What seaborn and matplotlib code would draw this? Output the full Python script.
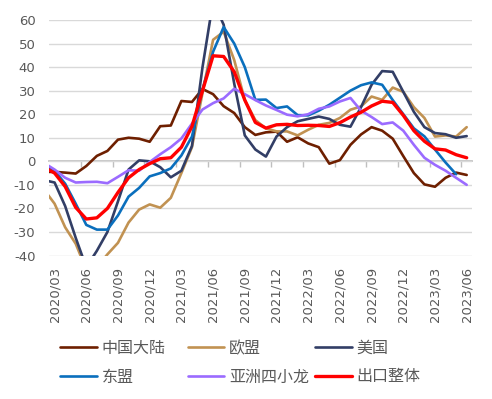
"""
plot.py
=======
Year-on-year growth of exports by destination, 2020/03 - 2023/06.
"""

import numpy as np
import pandas as pd
import matplotlib
matplotlib.use("Agg")
import matplotlib.pyplot as plt
import seaborn as sns

# ── Data (first point 2020/02 sits outside the visible range and is clipped) ──
MONTHS = list(pd.period_range("2020-02", "2023-06", freq="M").strftime("%Y/%m"))

china = [-4.5, -4.5, -4.8, -5.2, -2, 2.3, 4.4, 9.2, 10, 9.6, 8.3, 14.9, 15.2,
         25.6, 25.2, 30.7, 28.5, 23.4, 20.5, 14.5, 11.2, 12.3, 12.6, 8.3, 10.2,
         7.6, 6, -1, 0.5, 7, 11.4, 14.5, 13, 9.6, 2.2, -5, -9.8, -10.8, -7,
         -4.8, -5.8]
eu = [-12, -18, -28, -35, -46, -45, -39.5, -34.6, -26, -20.5, -18.3, -19.7,
      -15.5, -5, 6, 29, 51.6, 55, 43, 26, 17.5, 14, 12.7, 12.7, 11, 13.4, 15.5,
      16.3, 18.4, 21.9, 23.3, 27.5, 26.1, 31.3, 29.5, 23, 18.4, 10.5, 11, 10.5,
      14.5]
us = [-8, -9, -19, -32.5, -45, -38, -30, -17, -3.5, 0.4, 0, -2.5, -6.8, -4,
      6.5, 40, 68, 58, 33, 11, 5, 2, 10.5, 14.5, 17, 18, 19, 18, 15.5, 14.7, 23,
      32.5, 38.3, 38, 29.5, 21, 14.5, 12, 11.5, 10, 10.7]
asean = [-1.5, -4, -9.5, -18, -27, -29, -29, -23, -15, -11.3, -6.4, -5, -3,
         2.5, 10.5, 30.5, 46.5, 57, 50, 40, 26.1, 26.2, 22.6, 23.3, 19.6, 19.5,
         21.5, 24, 27, 30, 32.3, 33.5, 32.5, 26, 20, 14, 10.6, 5, -0.5, -5.5,
         np.nan]
tigers = [-0.7, -3.5, -7, -9, -8.8, -8.7, -9.3, -6.6, -3.8, -4, -0.3, 3, 6,
          9.7, 16, 22, 24.7, 26.7, 30.8, 28.5, 26, 23.7, 21.8, 19.8, 19.1, 20,
          22.3, 23.3, 25.4, 26.9, 21.5, 18.8, 15.8, 16.5, 13, 7, 1.5, -1.5, -4,
          -7, -10]
total = [-2.5, -5, -10.7, -19.6, -24.5, -24, -20, -13.2, -7, -3.5, -1, 1.1,
         1.5, 6, 14.8, 30, 44.8, 44.5, 38, 26, 16.5, 14.1, 15.5, 15.7, 15.2,
         15.3, 15.2, 14.8, 16.4, 18.8, 20.8, 23.5, 25.5, 25, 19.5, 13, 8.5, 5.3,
         4.8, 2.8, 1.5]

SERIES = ["中国大陆", "欧盟", "美国", "东盟", "亚洲四小龙", "出口整体"]
VALUES = [china, eu, us, asean, tigers, total]

PALETTE = {
    "中国大陆": "#6E1F00", "欧盟": "#C19252", "美国": "#323E66",
    "东盟": "#0A6FBD", "亚洲四小龙": "#9B6BFF", "出口整体": "#FF0000",
}
TEXT = "#595959"
GRID = "#D9D9D9"

# ── Style ────────────────────────────────────────────────────────────────────
sns.set_theme(style="white")
plt.rcParams["font.family"] = ["DejaVu Sans", "Noto Sans CJK SC"]
plt.rcParams["axes.unicode_minus"] = False

df = pd.DataFrame({"month": MONTHS, **dict(zip(SERIES, VALUES))})
df["pos"] = np.arange(len(df)) - 1          # 2020/03 -> 0
long = df.melt(id_vars=["month", "pos"], var_name="series", value_name="yoy")

fig = plt.figure(figsize=(4.92, 3.99), dpi=100)
ax = fig.add_axes([0.1002, 0.3596, 0.8591, 0.5903])

for name in SERIES:
    sub = long[long["series"] == name]
    sns.lineplot(data=sub, x="pos", y="yoy", color=PALETTE[name],
                 linewidth=2.4 if name == "出口整体" else 1.9,
                 label=name, legend=False, ax=ax)

ax.set_xlim(-0.5, 39.5)
ax.set_ylim(-40, 60)
ax.set_yticks(np.arange(-40, 61, 10))
ax.grid(axis="y", color=GRID, linewidth=1.0)
ax.grid(axis="x", visible=False)
ax.set_axisbelow(True)
for s in ax.spines.values():
    s.set_visible(False)

tick_pos = np.arange(0, 40, 3)
ax.set_xticks(tick_pos, [MONTHS[p + 1] for p in tick_pos], rotation=90)
ax.tick_params(axis="x", length=0, pad=8, labelsize=9.5, colors=TEXT)
ax.tick_params(axis="y", length=0, pad=10, labelsize=9.5, colors=TEXT)
ax.set_xlabel("")
ax.set_ylabel("")

# category axis crossing at zero, tick marks between every third month
zero = ax.secondary_xaxis(0.4)
zero.set_xticks(np.arange(2.5, 39.5, 3))
zero.tick_params(length=4, width=1, color="#BFBFBF", labelbottom=False)
zero.spines["bottom"].set_color("#BFBFBF")

# legend laid out like Excel: three equal columns, two rows
handles = {l.get_label(): l for l in ax.get_lines()}
for col, x0 in enumerate([60, 187.7, 315]):
    names = SERIES[col::3]
    fig.legend([handles[n] for n in names], names,
               loc="upper left", bbox_to_anchor=(x0 / 492, 1 - 340 / 399),
               frameon=False, borderpad=0, borderaxespad=0,
               handlelength=2.3, handletextpad=0.3, labelspacing=0.72,
               prop={"family": "Noto Sans CJK SC", "size": 11.5},
               labelcolor=TEXT)

fig.savefig("out.png", dpi=100, facecolor="white")
